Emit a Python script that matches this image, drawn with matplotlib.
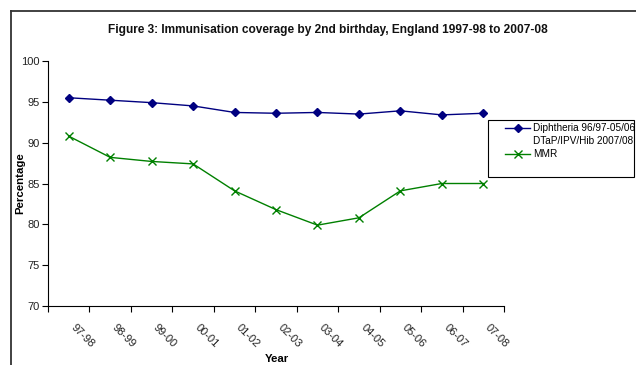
import numpy as np
import matplotlib
matplotlib.use("Agg")
import matplotlib.pyplot as plt
from matplotlib.lines import Line2D
from matplotlib.patches import Rectangle
import matplotlib.transforms as mtransforms

plt.rcParams['font.family'] = ['Liberation Sans', 'DejaVu Sans']

years = ["97-98", "98-99", "99-00", "00-01", "01-02", "02-03",
         "03-04", "04-05", "05-06", "06-07", "07-08"]
diphtheria = [95.5, 95.2, 94.9, 94.5, 93.7, 93.6, 93.7, 93.5, 93.9, 93.4, 93.6]
mmr = [90.8, 88.2, 87.7, 87.4, 84.1, 81.8, 79.9, 80.8, 84.1, 85.0, 85.0]
y_ticks = [70, 75, 80, 85, 90, 95, 100]

W, H = 636, 365
fig = plt.figure(figsize=(W / 100, H / 100), dpi=100)

def fx(px):
    return px / W

def fy(py):
    return 1 - py / H

# outer chart-area frame (left and top edges)
fig.add_artist(Line2D([fx(11), fx(11)], [fy(11), fy(366)], color="#333333", lw=1.3,
                      transform=fig.transFigure))
fig.add_artist(Line2D([fx(11), fx(637)], [fy(11), fy(11)], color="#333333", lw=1.3,
                      transform=fig.transFigure))

ax = fig.add_axes([fx(48), fy(306), fx(504) - fx(48), fy(61) - fy(306)])
x = np.arange(len(years))
ax.plot(x, diphtheria, color="#000080", lw=1.0, marker="D", ms=4,
        markerfacecolor="#000080", markeredgecolor="#000080")
ax.plot(x, mmr, color="#008000", lw=1.0, marker="x", ms=6, mew=1.0)

ax.set_xlim(-0.5, len(years) - 0.5)
ax.set_ylim(70, 100)
ax.set_yticks(y_ticks)
ax.tick_params(axis="y", length=4, width=0.8, pad=2, labelsize=8, labelcolor="#222222")

# tick marks sit on category boundaries, labels on category centres
ax.set_xticks(np.arange(len(years) + 1) - 0.5)
ax.set_xticklabels([])
ax.tick_params(axis="x", which="major", length=4, width=0.8)
ax.set_xticks(x, minor=True)
ax.set_xticklabels(years, minor=True, rotation=-45, ha="left", va="top",
                   rotation_mode="anchor", fontsize=8, color="#222222")
ax.tick_params(axis="x", which="minor", length=0, pad=12)
offset = mtransforms.ScaledTranslation(7 / 100, 0, fig.dpi_scale_trans)
for lbl in ax.get_xticklabels(minor=True):
    lbl.set_transform(lbl.get_transform() + offset)

for side in ("top", "right"):
    ax.spines[side].set_visible(False)
for side in ("left", "bottom"):
    ax.spines[side].set_linewidth(0.8)
    ax.spines[side].set_color("black")

fig.text(fx(328), fy(30), "Figure 3: Immunisation coverage by 2nd birthday, England 1997-98 to 2007-08",
         ha="center", va="center", fontsize=8.6, fontweight="bold", color="#111111")
fig.text(fx(20), fy(183), "Percentage", rotation=90, ha="center", va="center",
         fontsize=8.2, fontweight="bold")
fig.text(fx(277), fy(359), "Year", ha="center", va="center",
         fontsize=8.2, fontweight="bold")

# legend box
fig.add_artist(Rectangle((fx(488), fy(177)), fx(634) - fx(488), fy(120) - fy(177),
                         transform=fig.transFigure, fill=True, facecolor="white",
                         edgecolor="black", lw=0.8))
fig.add_artist(Line2D([fx(505), fx(517.5), fx(530)], [fy(127.5)] * 3, color="#000080",
                      lw=1.0, marker="D", ms=4, markevery=[1], transform=fig.transFigure))
fig.add_artist(Line2D([fx(505), fx(517.5), fx(530)], [fy(154)] * 3,
                      color="#008000", lw=1.0, marker="x", ms=6, markevery=[1],
                      transform=fig.transFigure))
fig.text(fx(533), fy(127.5), "Diphtheria 96/97-05/06", ha="left", va="center", fontsize=7.2)
fig.text(fx(533), fy(141), "DTaP/IPV/Hib 2007/08", ha="left", va="center", fontsize=7.2)
fig.text(fx(533), fy(154), "MMR", ha="left", va="center", fontsize=7.2)

fig.savefig("out.png", dpi=100)
